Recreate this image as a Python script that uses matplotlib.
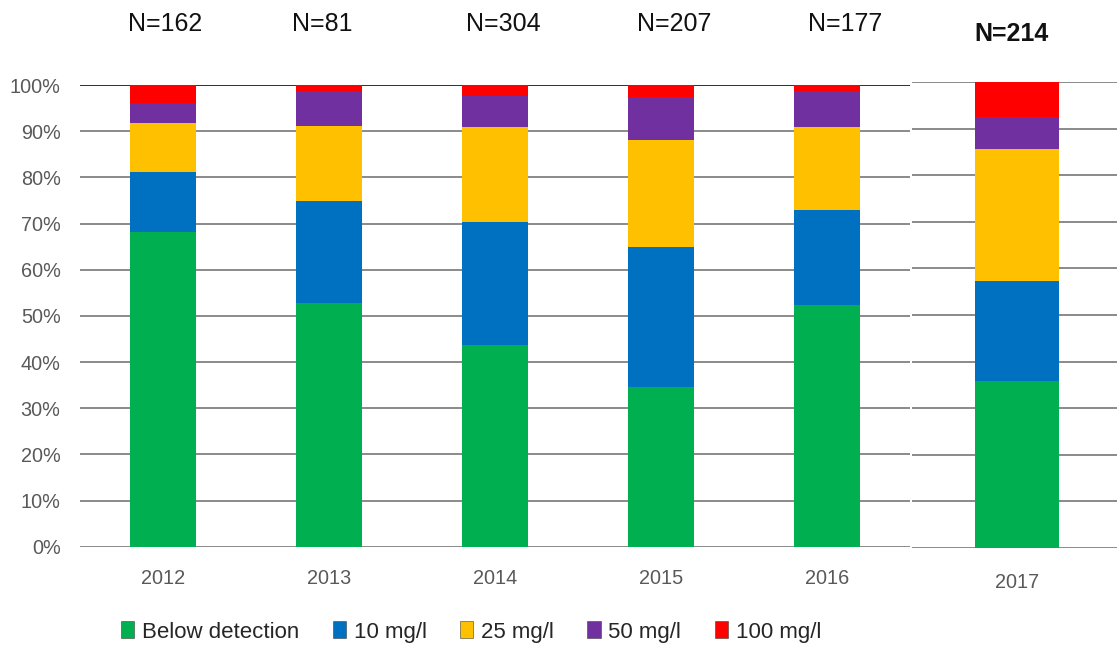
import matplotlib.pyplot as plt
from matplotlib.patches import Patch

years = ['2012', '2013', '2014', '2015', '2016']
counts = [162, 81, 304, 207, 177]
below = [68.1, 52.7, 43.7, 34.6, 52.4]
mg10 = [13.1, 22.2, 26.7, 30.3, 20.6]
mg25 = [10.5, 16.3, 20.5, 23.2, 17.9]
mg50 = [4.3, 7.5, 6.7, 9.2, 7.8]
mg100 = [4.0, 1.3, 2.4, 2.7, 1.3]

# 2017 gets its own panel
year17 = '2017'
count17 = 214
vals17 = [35.8, 21.4, 28.5, 6.8, 7.5]

labels = ['Below detection', '10 mg/l', '25 mg/l', '50 mg/l', '100 mg/l']
colors = ['#00B050', '#0070C0', '#FFC000', '#7030A0', '#FF0000']

fig = plt.figure(figsize=(11.17, 6.46), dpi=100)
plt.rcParams['font.family'] = ['Liberation Sans', 'DejaVu Sans']

ax = fig.add_axes([0.0716, 0.1537, 0.743, 0.7147])
ax2 = fig.add_axes([0.8165, 0.1517, 0.1835, 0.7214])

series = [below, mg10, mg25, mg50, mg100]
x = list(range(len(years)))
bottom = [0.0] * len(years)
for vals, c in zip(series, colors):
    ax.bar(x, vals, width=0.4, bottom=bottom, color=c, zorder=3)
    bottom = [b + v for b, v in zip(bottom, vals)]

b17 = 0.0
for v, c in zip(vals17, colors):
    ax2.bar([0], [v], width=0.4, bottom=b17, color=c, zorder=3)
    b17 += v

for a in (ax, ax2):
    a.set_ylim(0, 100)
    a.set_yticks(range(0, 101, 10))
    a.yaxis.grid(True, color='#8a8a8a', linewidth=1.4, zorder=0)
    for s in a.spines.values():
        s.set_visible(False)
    a.tick_params(length=0, labelsize=14.3, labelcolor='#595959')

ax.set_xlim(-0.5, len(years) - 0.5)
ax.set_xticks(x)
ax.set_xticklabels(years)
ax.set_yticklabels(['%d%%' % v for v in range(0, 101, 10)])
ax.tick_params(axis='y', pad=14)
ax.tick_params(axis='x', pad=16)
ax.axhline(100, color='#333333', linewidth=1.4, zorder=2)

ax2.set_xlim(-0.5, 0.476)
ax2.set_xticks([0])
ax2.set_xticklabels([year17])
ax2.set_yticklabels([])
ax2.tick_params(axis='x', pad=18)

# sample counts above each bar
n_x = [165.5, 322.5, 503, 674, 845]
for nx, n in zip(n_x, counts):
    fig.text(nx / 1117, 1 - 24 / 646, 'N=%d' % n, ha='center', va='center',
             fontsize=18, color='#111111')
fig.text(1011 / 1117, 1 - 34 / 646, 'N=%d' % count17, ha='center', va='center',
         fontsize=18, fontweight='bold', color='#111111')

handles = [Patch(facecolor=c, edgecolor='#404040', linewidth=0.4) for c in colors]
fig.legend(handles, labels, loc='center', bbox_to_anchor=(471 / 1117, 1 - 632 / 646),
           ncol=5, frameon=False, fontsize=16, handlelength=0.6, handleheight=0.8,
           handletextpad=0.35, columnspacing=1.5, labelcolor='#262626')

fig.savefig('out.png', dpi=100)
